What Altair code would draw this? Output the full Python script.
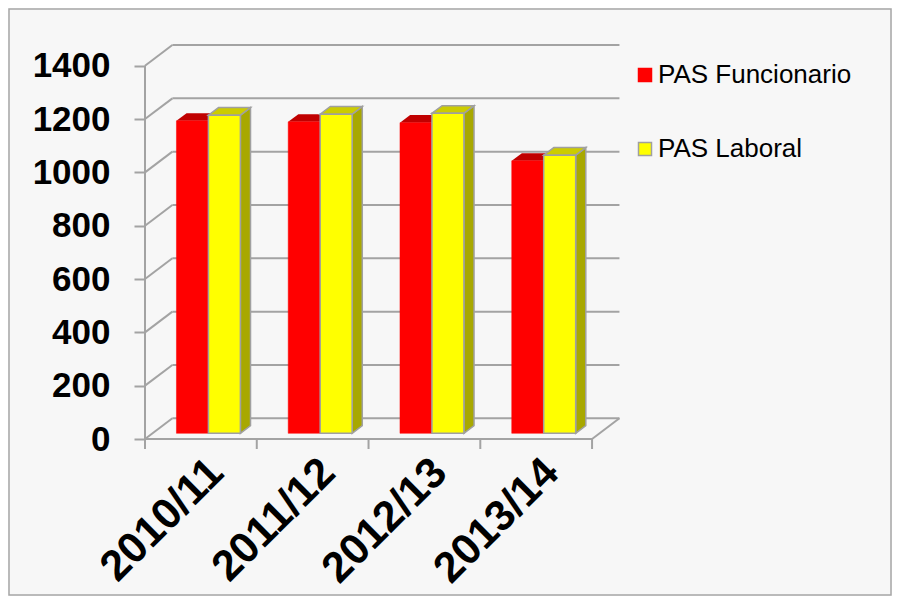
import altair as alt
import pandas as pd

# ---------------- data ----------------
categories = ["2010/11", "2011/12", "2012/13", "2013/14"]
series_names = ["PAS Funcionario", "PAS Laboral"]
funcionario = [1172, 1168, 1165, 1022]
laboral = [1193, 1197, 1200, 1043]
y_ticks = [0, 200, 400, 600, 800, 1000, 1200, 1400]

# ---------------- 3D geometry (style constants) ----------------
DX = 0.245        # wall depth, in category units
DY = 77.6         # wall depth, in value units
BAR_W = 0.286     # bar width in category units
GAP = 0.214       # gap before first bar in each category
PLANE = 0.275     # depth fraction at which the bars stand
BDEPTH = 0.37     # bar depth as fraction of wall depth
BX, BY = PLANE * DX, PLANE * DY
DXB, DYB = BDEPTH * DX, BDEPTH * DY
YMAX = 1400 + DY
N = len(categories)

GRID = "#a3a3a3"
FONT = "Liberation Sans"

front_fill = {"PAS Funcionario": "#ff0000", "PAS Laboral": "#ffff00"}
top_fill = {"PAS Funcionario": "#c00000", "PAS Laboral": "#cccc00"}
side_fill = {"PAS Funcionario": "#a00000", "PAS Laboral": "#a8a800"}
edge = {"PAS Funcionario": "#ff0000", "PAS Laboral": "#a0a0a0"}

# ---------------- tables built from the arrays ----------------
front_rows, top_rows, side_rows = [], [], []
for s_idx, (name, vals) in enumerate(zip(series_names, [funcionario, laboral])):
    for i, v in enumerate(vals):
        x0 = i + GAP + BX + s_idx * BAR_W
        x1 = x0 + BAR_W
        yb, yt = BY, v + BY
        fid = f"{name}-{i}"
        front_rows.append(dict(series=name, cat=categories[i], value=v,
                               x0=x0, x1=x1, yb=yb, yt=yt))
        for (px, lo, hi) in [(x0, yt, yt), (x0 + DXB, yt, yt + DYB),
                             (x1, yt, yt + DYB), (x1 + DXB, yt + DYB, yt + DYB)]:
            top_rows.append(dict(series=name, face=fid, x=px, lo=lo, hi=hi))
        for (px, lo, hi) in [(x1, yb, yt), (x1 + DXB, yb + DYB, yt + DYB)]:
            side_rows.append(dict(series=name, face=fid, x=px, lo=lo, hi=hi))

front_df = pd.DataFrame(front_rows)
top_df = pd.DataFrame(top_rows)
side_df = pd.DataFrame(side_rows)

levels_df = pd.DataFrame({"v": y_ticks})
levels_df["vb"] = levels_df["v"] + DY
bounds_df = pd.DataFrame({"b": list(range(N + 1))})
labels_df = pd.DataFrame({"cat": categories, "xc": [i + 0.5 for i in range(N)]})

xs = alt.Scale(domain=[0, N + DX + 0.005], nice=False, zero=False)
ys = alt.Scale(domain=[0, YMAX], nice=False, zero=False)
y_axis = alt.Axis(
    values=y_ticks, title=None, domain=False, grid=False, ticks=True, format="d",
    tickSize=11, tickColor=GRID, tickWidth=2, labelFont=FONT,
    labelFontSize=35, labelFontWeight="bold", labelColor="#000000",
    labelPadding=24, labelBaseline="middle")
X = lambda f: alt.X(f, type="quantitative", scale=xs, axis=None)
Y = lambda f: alt.Y(f, type="quantitative", scale=ys, axis=y_axis)

layers = []

# outer chart frame (decoration)
layers.append(alt.Chart(pd.DataFrame({"a": [0]})).mark_rect(
    fill=None, stroke="#a6a6a6", strokeWidth=1.5).encode(
    x=alt.value(-136), x2=alt.value(884 - 137 - 1),
    y=alt.value(-36), y2=alt.value(588 - 37 - 1)))

# back wall gridlines
layers.append(alt.Chart(levels_df).mark_rule(color=GRID, strokeWidth=2).encode(
    x=X("dx0:Q"), x2="dx1:Q", y=Y("vb:Q")
).transform_calculate(dx0=str(DX), dx1=str(N + DX)))
# left wall diagonals
layers.append(alt.Chart(levels_df).mark_rule(color=GRID, strokeWidth=2).encode(
    x=X("z:Q"), x2="dx:Q", y=Y("v:Q"), y2="vb:Q"
).transform_calculate(z="0", dx=str(DX)))
# floor front edge + right diagonal
layers.append(alt.Chart(pd.DataFrame({"a": [0], "b": [N]})).mark_rule(color=GRID, strokeWidth=2).encode(
    x=X("a:Q"), x2="b:Q", y=Y("z:Q")
).transform_calculate(z="0"))
layers.append(alt.Chart(pd.DataFrame({"a": [N], "b": [N + DX]})).mark_rule(color=GRID, strokeWidth=2).encode(
    x=X("a:Q"), x2="b:Q", y=Y("z:Q"), y2="dy:Q"
).transform_calculate(z="0", dy=str(DY)))
# front vertical axis line
layers.append(alt.Chart(pd.DataFrame({"a": [0]})).mark_rule(color=GRID, strokeWidth=2).encode(
    x=X("a:Q"), y=Y("z:Q"), y2="t:Q"
).transform_calculate(z="0", t=str(y_ticks[-1])))
# x ticks below the floor
layers.append(alt.Chart(bounds_df).mark_rule(color=GRID, strokeWidth=2).encode(
    x=X("b:Q"), y=Y("z:Q"), y2="t:Q"
).transform_calculate(z="0", t="-37.5"))

# bars: side and top faces
for name in series_names:
    sd = side_df[side_df.series == name]
    td = top_df[top_df.series == name]
    sw = 1.5 if name == "PAS Laboral" else 0
    layers.append(alt.Chart(sd).mark_area(
        fill=side_fill[name], stroke=edge[name], strokeWidth=sw, opacity=1).encode(
        x=X("x:Q"), y=Y("lo:Q"), y2="hi:Q", detail="face:N"))
    layers.append(alt.Chart(td).mark_area(
        fill=top_fill[name], stroke=edge[name], strokeWidth=sw, opacity=1).encode(
        x=X("x:Q"), y=Y("lo:Q"), y2="hi:Q", detail="face:N"))

legend = alt.Legend(title=None, orient="none", legendX=487, legendY=17,
                    symbolType="square", symbolSize=169, labelFont=FONT,
                    labelFontSize=26, labelColor="#000000", rowPadding=48,
                    labelOffset=0, padding=0, symbolStrokeWidth=1.5,
                    labelLimit=0)
for name in series_names:
    fd = front_df[front_df.series == name]
    sw = 1.5 if name == "PAS Laboral" else 0.5
    layers.append(alt.Chart(fd).mark_rect(strokeWidth=sw, opacity=1).encode(
        x=X("x0:Q"), x2="x1:Q", y=Y("yb:Q"), y2="yt:Q",
        fill=alt.Fill("series:N", scale=alt.Scale(
            domain=series_names, range=[front_fill[s] for s in series_names]),
            legend=legend),
        stroke=alt.Stroke("series:N", scale=alt.Scale(
            domain=series_names, range=[edge[s] for s in series_names]),
            legend=legend),
    ))

# category labels (rotated)
layers.append(alt.Chart(labels_df).mark_text(
    angle=315, align="right", baseline="middle", font=FONT, fontSize=43,
    fontWeight="bold", color="#000000", dx=-8, dy=30).encode(
    x=X("xc:Q"), y=Y("z:Q"), text="cat:N"
).transform_calculate(z="0"))

chart = alt.layer(*layers).properties(
    width=475, height=394,
    padding={"left": 137, "top": 37, "right": 272, "bottom": 157},
    autosize=alt.AutoSizeParams(type="none"),
    background="#f7f7f7",
).configure_view(stroke=None)

chart.save("out.html", embed_options={"renderer": "svg", "actions": False})
